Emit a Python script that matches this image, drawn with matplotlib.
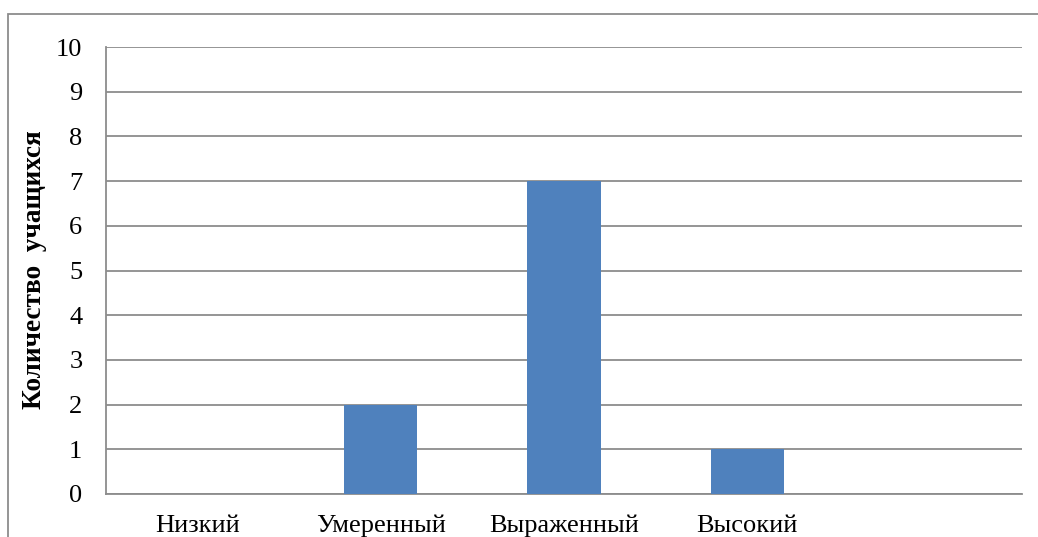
import matplotlib
matplotlib.use("Agg")
import matplotlib.pyplot as plt
from matplotlib.patches import Rectangle

categories = ["Низкий", "Умеренный", "Выраженный", "Высокий", ""]
counts = [0, 2, 7, 1, 0]
y_ticks = list(range(0, 11))
y_label = "Количество  учащихся"

W, H, DPI = 1038, 537, 100
fig = plt.figure(figsize=(W / DPI, H / DPI), dpi=DPI)
plt.rcParams["font.family"] = ["Liberation Serif", "DejaVu Serif"]

grid_color = "#8c8c8c"
bar_color = "#4f81bd"

# outer chart frame
fig.patches.append(Rectangle((8 / W, -0.1), 1.2, (H - 14) / H + 0.1,
                             transform=fig.transFigure, fill=False,
                             edgecolor="#8c8c8c", linewidth=1.3))

left, right, top, bottom = 106, 1022, 47, 494
ax = fig.add_axes([left / W, 1 - bottom / H, (right - left) / W, (bottom - top) / H])

x = range(len(categories))
ax.bar(x, counts, width=0.4, color=bar_color, zorder=3)
ax.set_xlim(-0.5, len(categories) - 0.5)
ax.set_ylim(0, 10)
ax.set_yticks(y_ticks)
ax.set_yticklabels([str(v) for v in y_ticks], fontsize=19)
ax.set_xticks(list(x))
ax.set_xticklabels(categories, fontsize=19)
ax.tick_params(axis="both", length=0)
ax.tick_params(axis="y", pad=17)
ax.tick_params(axis="x", pad=15)

ax.grid(axis="y", color=grid_color, linewidth=1.3, zorder=0)
for side in ("top", "right"):
    ax.spines[side].set_visible(False)
for side in ("left", "bottom"):
    ax.spines[side].set_color(grid_color)
    ax.spines[side].set_linewidth(1.3)

fig.text(35 / W, 1 - 270 / H, y_label, rotation=90, fontsize=19.6,
         fontweight="bold", ha="center", va="center")

fig.savefig("out.png", dpi=DPI)
